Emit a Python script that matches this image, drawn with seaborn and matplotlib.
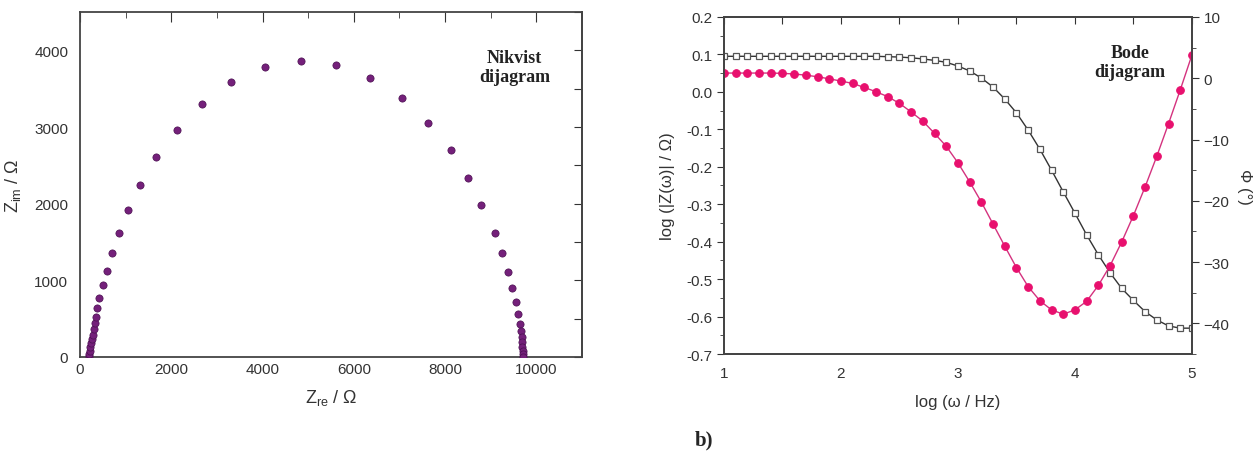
import matplotlib
matplotlib.use("Agg")
import matplotlib.pyplot as plt
import seaborn as sns
import pandas as pd
from matplotlib.ticker import MultipleLocator

# Nyquist data (Zre, Zim in ohm)
z_re = [197, 203, 212, 225, 240, 255, 277, 299, 321, 343, 378, 421, 496, 583,
        699, 852, 1055, 1325, 1675, 2118, 2664, 3319, 4054, 4840, 5618, 6360,
        7052, 7627, 8122, 8500, 8784, 9083, 9236, 9373, 9461, 9548, 9607, 9644,
        9666, 9679, 9688, 9694, 9701, 9709, 9716]
z_im = [9, 39, 83, 127, 180, 236, 292, 367, 441, 528, 638, 769, 934, 1118,
        1350, 1616, 1913, 2250, 2604, 2966, 3303, 3587, 3784, 3862, 3814, 3643,
        3377, 3058, 2700, 2337, 1979, 1616, 1359, 1110, 904, 717, 564, 433,
        337, 258, 193, 135, 83, 39, 4]

# Bode data
log_freq = [1.0, 1.1, 1.2, 1.3, 1.4, 1.5, 1.6, 1.7, 1.8, 1.9, 2.0, 2.1, 2.2,
            2.3, 2.4, 2.5, 2.6, 2.7, 2.8, 2.9, 3.0, 3.1, 3.2, 3.3, 3.4, 3.5,
            3.6, 3.7, 3.8, 3.9, 4.0, 4.1, 4.2, 4.3, 4.4, 4.5, 4.6, 4.7, 4.8,
            4.9, 5.0]
log_z = [0.095, 0.095, 0.095, 0.095, 0.095, 0.095, 0.095, 0.095, 0.095, 0.095,
         0.095, 0.095, 0.095, 0.095, 0.094, 0.093, 0.091, 0.088, 0.084, 0.079,
         0.069, 0.056, 0.037, 0.013, -0.019, -0.056, -0.102, -0.153, -0.209,
         -0.267, -0.324, -0.382, -0.435, -0.483, -0.525, -0.557, -0.587,
         -0.609, -0.625, -0.631, -0.631]
phase = [0.85, 0.85, 0.85, 0.85, 0.85, 0.8, 0.7, 0.5, 0.25, -0.1, -0.45,
         -0.85, -1.5, -2.2, -3.0, -4.1, -5.5, -7.0, -9.0, -11.1, -13.8, -16.9,
         -20.2, -23.8, -27.4, -30.9, -34.0, -36.3, -37.8, -38.5, -37.8, -36.4,
         -33.8, -30.6, -26.7, -22.4, -17.7, -12.7, -7.4, -1.9, 3.8]

nyq = pd.DataFrame({"zre": z_re, "zim": z_im})
bode = pd.DataFrame({"f": log_freq, "logz": log_z, "phi": phase})

sns.set_style("white")
plt.rcParams["font.family"] = ["Liberation Sans", "DejaVu Sans"]
plt.rcParams["mathtext.fontset"] = "custom"
plt.rcParams["mathtext.rm"] = "Liberation Sans"

fig = plt.figure(figsize=(12.56, 4.52), dpi=100)
ax1 = fig.add_axes([0.0637, 0.208, 0.3997, 0.7632])
ax2 = fig.add_axes([0.5764, 0.2146, 0.3726, 0.7456])

tick_col = "#333333"
spine_col = "#444444"

# ---- Nyquist
sns.scatterplot(data=nyq, x="zre", y="zim", ax=ax1, color="#74207a",
                edgecolor="#4a0f50", linewidth=0.5, s=27, zorder=3)
ax1.set_xlim(0, 11000)
ax1.set_ylim(0, 4500)
ax1.xaxis.set_major_locator(MultipleLocator(2000))
ax1.xaxis.set_minor_locator(MultipleLocator(1000))
ax1.yaxis.set_major_locator(MultipleLocator(1000))
ax1.yaxis.set_minor_locator(MultipleLocator(500))
ax1.set_xlabel(r"$\mathregular{Z_{re}}$ / Ω", fontsize=13, color=tick_col, labelpad=8)
ax1.set_ylabel(r"$\mathregular{Z_{im}}$ / Ω", fontsize=13, color=tick_col, labelpad=8)
ax1.tick_params(axis="both", which="both", labelsize=11, colors=tick_col,
                top=True, right=False)
ax1.tick_params(axis="y", which="major", direction="out", length=5)
ax1.tick_params(axis="y", which="minor", direction="out", length=3)
ax1.tick_params(axis="x", which="major", direction="in", length=7)
ax1.tick_params(axis="x", which="minor", direction="in", length=4)
# right side ticks point inward
r1 = ax1.secondary_yaxis("right")
r1.yaxis.set_major_locator(MultipleLocator(500))
r1.tick_params(direction="in", length=6, labelright=False, colors=tick_col)
ax1.text(0.866, 0.84, "Nikvist\ndijagram", transform=ax1.transAxes,
         ha="center", va="center", fontsize=13, fontweight="bold",
         family="Liberation Serif", color="#222222", linespacing=1.15)

# ---- Bode
sns.lineplot(data=bode, x="f", y="logz", ax=ax2, color="#333333", lw=1.0,
             marker="s", markersize=5, markerfacecolor="white",
             markeredgecolor="#555555", markeredgewidth=0.9)
ax2.set_xlim(1, 5)
ax2.set_ylim(-0.7, 0.2)
ax2.xaxis.set_major_locator(MultipleLocator(1))
ax2.xaxis.set_minor_locator(MultipleLocator(0.5))
ax2.yaxis.set_major_locator(MultipleLocator(0.1))
ax2.yaxis.set_minor_locator(MultipleLocator(0.05))
ax2.set_xlabel("log (ω / Hz)", fontsize=12, color=tick_col, labelpad=10)
ax2.set_ylabel("log (|Z(ω)| / Ω)", fontsize=12, color=tick_col, labelpad=8)
ax2.tick_params(axis="both", which="both", labelsize=11, colors=tick_col,
                direction="out", top=False)
ax2.tick_params(which="major", length=5)
ax2.tick_params(which="minor", length=3)
ax2.yaxis.set_major_formatter(plt.FuncFormatter(lambda v, p: f"{v:.1f}"))
# top ticks point inward
t2 = ax2.secondary_xaxis("top")
t2.xaxis.set_major_locator(MultipleLocator(0.5))
t2.tick_params(direction="in", length=5, labeltop=False, colors=tick_col)

ax3 = ax2.twinx()
sns.lineplot(data=bode, x="f", y="phi", ax=ax3, color="#d4327e", lw=1.0,
             marker="o", markersize=5.5, markerfacecolor="#e8106e",
             markeredgecolor="#e8106e")
ax3.set_ylim(-45, 10)
ax3.yaxis.set_major_locator(MultipleLocator(10))
ax3.yaxis.set_minor_locator(MultipleLocator(5))
ax3.set_ylabel("Φ (°)", fontsize=12, color=tick_col, rotation=270, labelpad=16)
ax3.tick_params(axis="y", which="both", labelsize=11, colors=tick_col,
                direction="out")
ax3.tick_params(which="major", length=5)
ax3.tick_params(which="minor", length=3)
ax3.text(0.867, 0.866, "Bode\ndijagram", transform=ax3.transAxes,
         ha="center", va="center", fontsize=13, fontweight="bold",
         family="Liberation Serif", color="#222222", linespacing=1.15)

for ax in (ax1, ax2, ax3):
    for sp in ax.spines.values():
        sp.set_visible(True)
        sp.set_color(spine_col)
        sp.set_linewidth(1.3)
for sec in (r1, t2):
    for sp in sec.spines.values():
        sp.set_color(spine_col)
        sp.set_linewidth(1.3)

fig.text(0.553, 0.003, "b)", fontsize=15, fontweight="bold",
         family="Liberation Serif", ha="left", va="bottom")

fig.savefig("out.png", dpi=100)
plt.close(fig)
